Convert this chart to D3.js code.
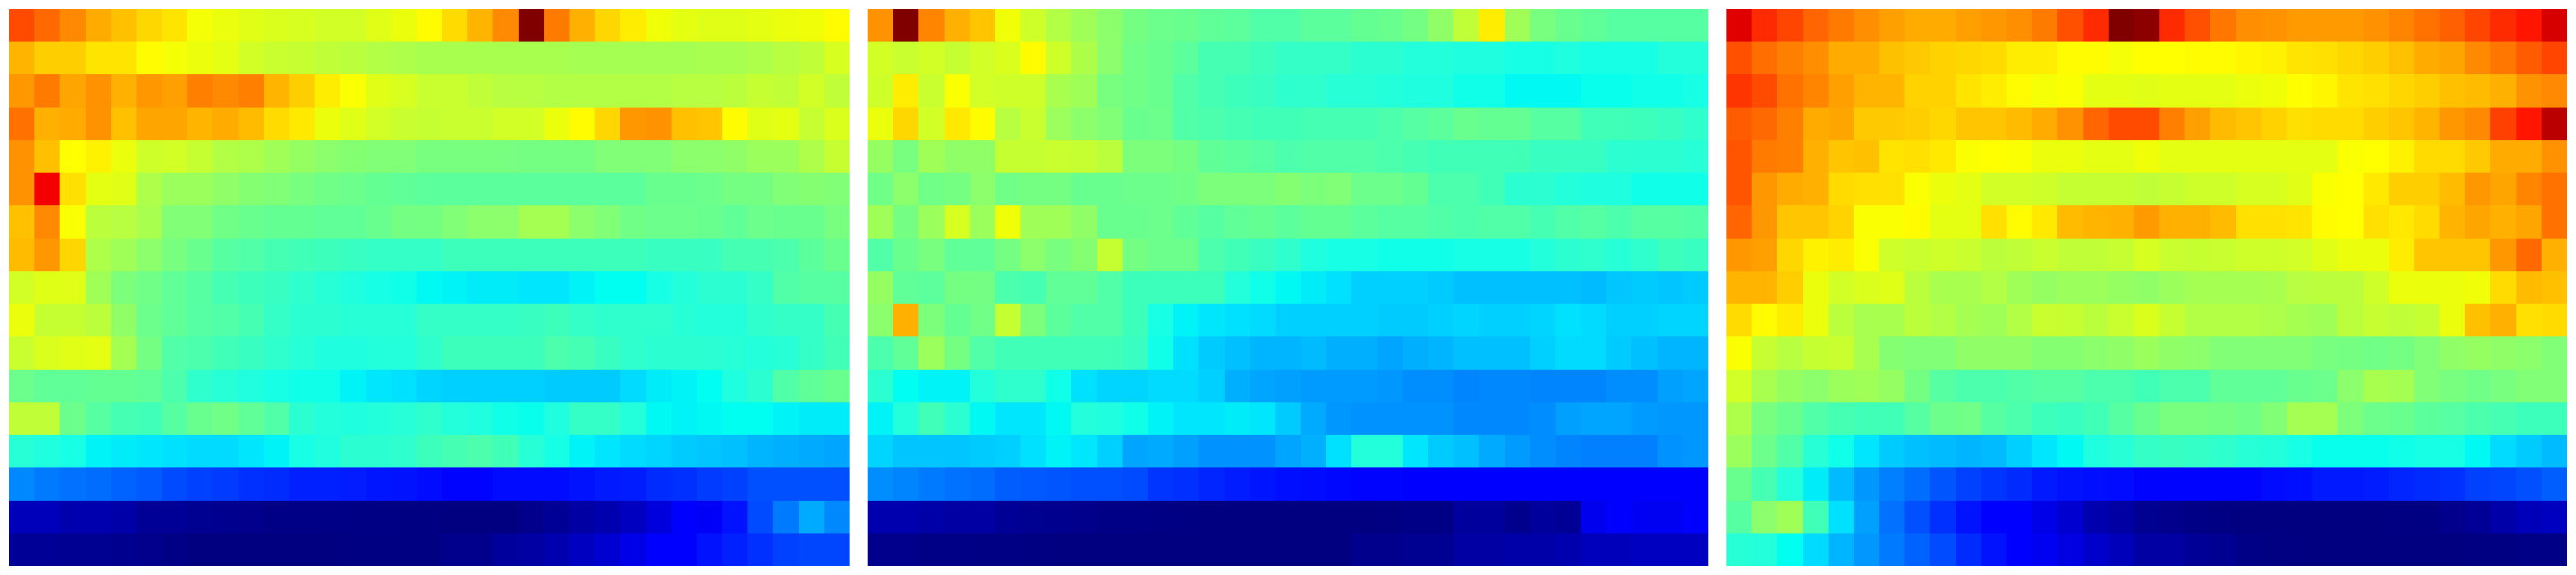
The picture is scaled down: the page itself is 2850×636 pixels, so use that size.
<!DOCTYPE html>
<html><head><meta charset="utf-8">
<script src="https://cdn.jsdelivr.net/npm/d3@7"></script>
<style>html,body{margin:0;padding:0;background:#fff}svg{display:block}</style>
</head><body><svg id="c" width="2850" height="636"></svg>
<script>
const panelA = [
[.82,.79,.755,.72,.70,.675,.66,.62,.61,.60,.595,.59,.585,.585,.60,.61,.635,.67,.71,.755,1.0,.77,.715,.675,.65,.615,.605,.60,.60,.605,.61,.615,.635],
[.71,.685,.685,.66,.66,.635,.62,.61,.605,.585,.575,.57,.565,.56,.55,.545,.54,.54,.54,.54,.54,.54,.535,.535,.535,.535,.535,.54,.54,.545,.555,.565,.59],
[.74,.77,.725,.745,.715,.74,.73,.765,.755,.765,.71,.685,.65,.625,.60,.59,.575,.575,.565,.555,.555,.55,.55,.55,.55,.55,.555,.555,.56,.57,.565,.585,.565],
[.78,.715,.72,.745,.70,.725,.725,.71,.72,.705,.67,.655,.61,.60,.585,.575,.57,.575,.575,.585,.585,.61,.635,.675,.74,.745,.70,.695,.635,.60,.605,.57,.595],
[.745,.70,.63,.645,.61,.58,.585,.57,.55,.545,.53,.52,.51,.505,.50,.50,.49,.49,.49,.49,.485,.485,.485,.50,.50,.50,.51,.51,.515,.525,.525,.545,.57],
[.745,.90,.665,.605,.60,.545,.525,.525,.515,.505,.50,.49,.48,.475,.465,.46,.455,.455,.455,.455,.455,.455,.455,.455,.455,.47,.47,.475,.485,.485,.50,.505,.50],
[.70,.755,.625,.56,.555,.54,.50,.50,.48,.47,.465,.465,.46,.46,.47,.485,.485,.50,.51,.51,.535,.535,.51,.50,.48,.475,.475,.47,.46,.475,.47,.47,.49],
[.705,.74,.675,.545,.53,.51,.49,.47,.45,.445,.435,.43,.425,.42,.415,.415,.415,.425,.425,.425,.425,.425,.425,.425,.425,.42,.42,.42,.435,.435,.44,.455,.47],
[.585,.60,.60,.53,.495,.48,.46,.45,.435,.425,.42,.41,.40,.39,.385,.38,.365,.36,.355,.355,.35,.35,.36,.37,.37,.385,.395,.405,.405,.415,.445,.45,.45],
[.61,.57,.57,.56,.515,.475,.46,.45,.445,.435,.415,.405,.405,.40,.40,.40,.415,.415,.415,.415,.42,.425,.415,.41,.41,.41,.40,.395,.395,.41,.415,.415,.435],
[.575,.595,.60,.605,.535,.485,.445,.44,.43,.42,.41,.40,.39,.39,.395,.395,.41,.425,.425,.425,.425,.44,.435,.42,.41,.405,.405,.405,.40,.395,.40,.415,.43],
[.475,.46,.46,.465,.465,.46,.44,.41,.40,.39,.385,.38,.38,.36,.35,.345,.335,.33,.33,.33,.33,.325,.325,.325,.34,.355,.36,.37,.39,.405,.445,.46,.47],
[.565,.565,.475,.45,.435,.43,.45,.47,.48,.46,.445,.405,.395,.39,.395,.40,.41,.395,.39,.38,.375,.39,.415,.415,.395,.365,.36,.365,.37,.37,.36,.355,.355],
[.40,.39,.385,.36,.355,.35,.345,.34,.34,.35,.36,.385,.39,.405,.405,.41,.425,.435,.44,.43,.40,.385,.36,.35,.34,.335,.325,.32,.315,.305,.30,.295,.29],
[.26,.245,.235,.23,.22,.21,.195,.185,.18,.17,.165,.155,.155,.15,.14,.135,.125,.115,.115,.125,.125,.125,.135,.145,.15,.165,.17,.18,.185,.20,.20,.20,.20],
[.05,.05,.04,.04,.035,.02,.02,.015,.012,.01,.005,.005,.005,.004,.004,.003,.003,0,0,0,.01,.02,.03,.04,.055,.08,.11,.105,.135,.195,.245,.295,.26],
[.02,.02,.015,.015,.012,.01,.005,0,0,0,0,0,0,.002,.003,.003,.003,.01,.01,.025,.03,.04,.055,.07,.09,.11,.11,.135,.155,.17,.185,.19,.19]
];
const panelB = [
[.745,1.0,.76,.715,.695,.615,.58,.55,.53,.51,.485,.475,.47,.46,.455,.445,.445,.455,.455,.465,.47,.485,.515,.565,.65,.53,.49,.47,.46,.45,.45,.45,.45],
[.585,.575,.585,.57,.585,.595,.635,.58,.545,.51,.48,.47,.455,.435,.435,.425,.415,.415,.415,.405,.405,.395,.395,.39,.39,.385,.385,.39,.385,.385,.385,.395,.395],
[.58,.65,.575,.625,.585,.58,.58,.54,.53,.49,.48,.47,.445,.435,.425,.42,.41,.41,.40,.40,.395,.39,.39,.38,.38,.365,.365,.365,.375,.375,.38,.38,.385],
[.61,.675,.585,.655,.635,.555,.575,.525,.51,.50,.47,.475,.445,.44,.435,.43,.43,.435,.435,.435,.44,.45,.455,.47,.465,.465,.45,.45,.43,.43,.425,.42,.41],
[.52,.49,.53,.515,.515,.57,.57,.575,.57,.56,.495,.495,.485,.46,.455,.45,.44,.445,.445,.445,.44,.435,.43,.43,.43,.43,.42,.42,.42,.405,.405,.405,.40],
[.48,.51,.48,.485,.51,.48,.485,.485,.47,.47,.475,.475,.48,.495,.495,.495,.505,.495,.50,.475,.475,.465,.44,.44,.43,.405,.405,.395,.39,.39,.38,.38,.38],
[.53,.485,.525,.59,.525,.615,.53,.53,.515,.47,.47,.475,.46,.45,.46,.465,.455,.465,.465,.455,.45,.45,.445,.44,.445,.445,.435,.445,.45,.44,.45,.45,.445],
[.445,.47,.49,.46,.46,.485,.51,.49,.505,.57,.485,.475,.475,.44,.43,.42,.41,.39,.385,.385,.38,.38,.38,.385,.385,.385,.395,.405,.41,.40,.41,.425,.42],
[.52,.46,.455,.485,.485,.44,.435,.46,.46,.445,.425,.425,.425,.425,.395,.38,.365,.355,.345,.33,.33,.33,.325,.315,.315,.315,.315,.315,.31,.32,.325,.32,.325],
[.51,.715,.495,.465,.48,.57,.495,.455,.445,.445,.425,.385,.36,.35,.345,.34,.33,.33,.33,.33,.325,.325,.33,.335,.33,.33,.335,.345,.34,.33,.33,.335,.335],
[.44,.46,.525,.485,.445,.43,.43,.43,.43,.43,.42,.38,.345,.325,.315,.305,.305,.31,.30,.30,.29,.30,.305,.315,.315,.315,.33,.34,.34,.325,.315,.305,.305],
[.405,.37,.36,.36,.395,.41,.41,.38,.345,.335,.335,.34,.34,.33,.30,.29,.285,.28,.28,.28,.275,.265,.265,.255,.26,.26,.255,.255,.255,.265,.265,.285,.29],
[.36,.395,.43,.405,.365,.35,.35,.365,.395,.39,.38,.36,.35,.35,.355,.35,.325,.295,.275,.27,.27,.27,.27,.26,.26,.26,.265,.285,.29,.29,.28,.275,.275],
[.335,.32,.32,.32,.325,.33,.345,.36,.35,.33,.29,.295,.285,.27,.27,.27,.29,.30,.345,.395,.395,.35,.325,.315,.295,.28,.265,.255,.25,.25,.25,.27,.275],
[.265,.255,.245,.235,.23,.215,.21,.205,.20,.20,.195,.175,.17,.16,.15,.14,.13,.125,.12,.115,.115,.11,.11,.11,.11,.11,.11,.11,.11,.11,.11,.11,.11],
[.04,.04,.035,.03,.03,.02,.015,.012,.01,.006,.005,.004,.003,0,0,0,0,0,0,0,.002,.005,.005,.025,.025,.012,.025,.02,.095,.11,.10,.10,.11],
[.01,.01,.006,.006,.004,.004,.003,0,0,0,0,0,0,0,0,0,0,0,0,.01,.01,.015,.015,.03,.03,.035,.035,.04,.05,.05,.055,.055,.055]
];
const panelC = [
[.917,.85,.825,.795,.77,.75,.73,.72,.72,.73,.74,.75,.77,.815,.85,1.0,.989,.85,.815,.775,.75,.745,.735,.735,.735,.745,.76,.78,.80,.825,.85,.87,.925],
[.815,.785,.765,.75,.72,.72,.70,.69,.68,.675,.67,.65,.65,.635,.635,.62,.63,.63,.635,.635,.64,.645,.66,.665,.675,.685,.70,.72,.725,.755,.775,.805,.825],
[.84,.82,.78,.76,.73,.71,.71,.68,.68,.66,.65,.635,.62,.625,.605,.605,.60,.605,.605,.605,.61,.615,.63,.64,.66,.665,.675,.685,.70,.705,.715,.745,.755],
[.805,.79,.765,.72,.725,.69,.69,.685,.675,.695,.695,.705,.72,.745,.795,.82,.82,.765,.73,.705,.695,.68,.665,.67,.67,.685,.695,.71,.74,.755,.83,.87,.95],
[.81,.77,.765,.715,.695,.70,.66,.665,.655,.625,.63,.625,.61,.61,.605,.605,.615,.605,.605,.605,.605,.605,.605,.605,.625,.63,.645,.67,.67,.69,.72,.72,.745],
[.81,.74,.72,.715,.67,.665,.665,.625,.61,.605,.585,.585,.58,.57,.57,.57,.565,.57,.58,.58,.59,.59,.60,.625,.63,.655,.685,.685,.705,.74,.725,.76,.78],
[.795,.74,.695,.695,.68,.625,.625,.635,.605,.605,.665,.635,.655,.705,.71,.715,.735,.715,.715,.705,.665,.665,.66,.635,.63,.665,.655,.67,.71,.725,.715,.725,.78],
[.74,.73,.675,.645,.65,.625,.58,.575,.58,.575,.56,.565,.575,.565,.565,.57,.59,.575,.57,.575,.58,.58,.585,.60,.61,.61,.65,.695,.695,.695,.74,.79,.715],
[.71,.71,.685,.61,.585,.595,.60,.56,.54,.54,.55,.53,.52,.525,.525,.52,.515,.525,.535,.535,.535,.54,.555,.56,.56,.58,.61,.61,.61,.615,.67,.705,.70],
[.67,.635,.65,.61,.56,.54,.54,.56,.55,.535,.53,.55,.575,.57,.56,.575,.595,.57,.55,.55,.55,.545,.535,.53,.56,.57,.565,.57,.61,.70,.715,.665,.67],
[.625,.57,.555,.57,.575,.54,.505,.50,.50,.515,.515,.515,.505,.505,.51,.515,.525,.515,.51,.50,.50,.50,.50,.49,.485,.48,.485,.50,.515,.52,.515,.51,.50],
[.585,.54,.52,.51,.525,.53,.52,.485,.45,.44,.44,.445,.45,.45,.44,.44,.43,.44,.44,.46,.46,.46,.47,.475,.51,.54,.535,.50,.49,.48,.49,.50,.50],
[.545,.49,.47,.445,.435,.43,.43,.45,.475,.48,.45,.44,.425,.42,.43,.45,.47,.49,.49,.485,.48,.50,.535,.535,.495,.475,.47,.455,.45,.44,.435,.425,.425],
[.525,.475,.445,.40,.38,.35,.325,.315,.31,.305,.31,.33,.35,.365,.39,.40,.415,.42,.415,.41,.40,.395,.385,.375,.375,.375,.38,.385,.385,.365,.34,.325,.31],
[.47,.435,.395,.355,.31,.275,.25,.23,.205,.185,.175,.165,.145,.135,.13,.125,.115,.115,.115,.115,.115,.125,.13,.145,.145,.15,.16,.165,.17,.185,.19,.20,.215],
[.45,.51,.53,.43,.345,.285,.235,.20,.17,.135,.11,.11,.09,.07,.04,.03,.015,.01,.005,.003,0,0,0,0,0,0,.003,.003,.01,.02,.035,.05,.055],
[.40,.395,.37,.34,.305,.275,.245,.22,.195,.165,.135,.11,.10,.085,.065,.05,.03,.03,.02,.015,.005,.003,0,0,0,0,0,0,0,.003,.003,.005,.005]
];
const panels = [panelA, panelB, panelC];
const panelStarts = [10, 960, 1910];
const panelW = 930, plotTop = 10, plotBottom = 626;

const jetStops = [0,.11,.155,.2,.25,.285,.315,.345,.37,.39,.43,.46,.5,.53,.565,.6,.615,.63,.665,.70,.73,.765,.80,.83,.86,.89,.917,1];
const jetColours = ["#000080","#0000ff","#0020ff","#0050ff","#0080ff","#00a0ff","#00c0ff","#00e0ff","#00fff0","#1fffe0","#40ffb7","#60ff97","#80ff77","#a0ff57","#c0ff37","#e0ff17","#f0ff07","#ffff00","#ffe000","#ffc000","#ffa000","#ff8000","#ff6000","#ff4000","#ff2000","#ff0000","#e00000","#800000"];
const jet = d3.scaleLinear().domain(jetStops).range(jetColours).interpolate(d3.interpolateRgb).clamp(true);

const svg = d3.select("#c");
svg.append("rect").attr("width",2850).attr("height",636).attr("fill","#fff");
panels.forEach((rows, p) => {
  const nc = rows[0].length, nr = rows.length;
  const x = d3.scaleLinear().domain([0,nc]).rangeRound([panelStarts[p], panelStarts[p]+panelW]);
  const y = d3.scaleLinear().domain([0,nr]).rangeRound([plotTop,plotBottom]);
  const cells = rows.flatMap((row,i)=>row.map((v,j)=>({i,j,v})));
  svg.append("g").attr("shape-rendering","crispEdges").selectAll("rect").data(cells).join("rect")
    .attr("x",d=>x(d.j)).attr("y",d=>y(d.i))
    .attr("width",d=>x(d.j+1)-x(d.j)).attr("height",d=>y(d.i+1)-y(d.i))
    .attr("fill",d=>jet(d.v));
});
</script></body></html>
